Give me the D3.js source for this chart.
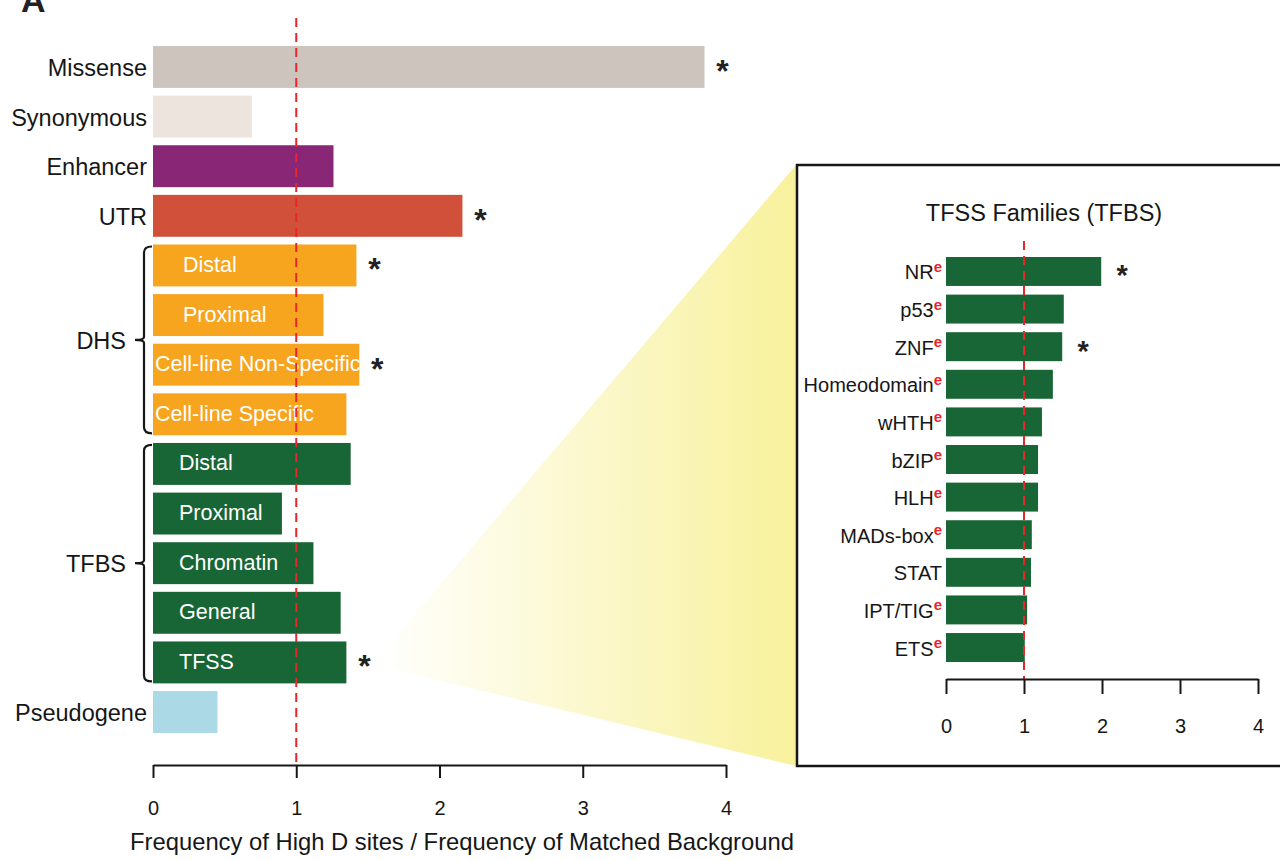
<!DOCTYPE html>
<html>
<head>
<meta charset="utf-8">
<script src="https://cdn.jsdelivr.net/npm/d3@7"></script>
<style>
  body { margin: 0; background: #fff; }
  svg { display: block; font-family: "Liberation Sans", Arial, Helvetica, sans-serif; }
</style>
</head>
<body>
<div id="chart"></div>
<script>
// main panel data
const categories = ['Missense', 'Synonymous', 'Enhancer', 'UTR',
  'DHS Distal', 'DHS Proximal', 'DHS Cell-line Non-Specific', 'DHS Cell-line Specific',
  'TFBS Distal', 'TFBS Proximal', 'TFBS Chromatin', 'TFBS General', 'TFBS TFSS',
  'Pseudogene'];
const barText = ['Missense', 'Synonymous', 'Enhancer', 'UTR',
  'Distal', 'Proximal', 'Cell-line Non-Specific', 'Cell-line Specific',
  'Distal', 'Proximal', 'Chromatin', 'General', 'TFSS', 'Pseudogene'];
const groups = ['Missense', 'Synonymous', 'Enhancer', 'UTR',
  'DHS', 'DHS', 'DHS', 'DHS', 'TFBS', 'TFBS', 'TFBS', 'TFBS', 'TFBS', 'Pseudogene'];
const values = [3.85, 0.69, 1.26, 2.16, 1.42, 1.19, 1.44, 1.35, 1.38, 0.90, 1.12, 1.31, 1.35, 0.45];
const significant = [true, false, false, true, true, false, true, false, false, false, false, false, true, false];
const xTicks = [0, 1, 2, 3, 4];

// inset panel data (TFSS families)
const families = ['NR', 'p53', 'ZNF', 'Homeodomain', 'wHTH', 'bZIP', 'HLH', 'MADs-box', 'STAT', 'IPT/TIG', 'ETS'];
const familyValues = [1.99, 1.51, 1.49, 1.37, 1.23, 1.18, 1.18, 1.10, 1.09, 1.04, 1.01];
const familyEnriched = [true, true, true, true, true, true, true, true, false, true, true];
const familySignificant = [true, false, true, false, false, false, false, false, false, false, false];
const insetTicks = [0, 1, 2, 3, 4];

const colors = {
  Missense: '#cdc4be', Synonymous: '#ede5dd', Enhancer: '#8a2676', UTR: '#d0503a',
  DHS: '#f7a41f', TFBS: '#186535', Pseudogene: '#acd9e6'
};
const red = '#e8262a';
const ink = '#161616';

const W = 1280, H = 861;
const svg = d3.select('#chart').append('svg').attr('width', W).attr('height', H);

// ---- zoom triangle (drawn first so the box sits over it)
const grad = svg.append('defs').append('linearGradient')
  .attr('id', 'zoomGrad').attr('gradientUnits', 'userSpaceOnUse')
  .attr('x1', 375).attr('y1', 0).attr('x2', 796).attr('y2', 0);
grad.append('stop').attr('offset', 0).attr('stop-color', '#ffffff');
grad.append('stop').attr('offset', 1).attr('stop-color', '#f8f19c');

// ---- main panel
const x = d3.scaleLinear().domain([0, 4]).range([153, 726]);
const y = d3.scaleBand().domain(categories).range([46, 733]).paddingInner(0.155).paddingOuter(0);
const bw = y.bandwidth();
const axisY = 765;

const tfssY = y('TFBS TFSS') + bw / 2;
svg.append('path')
  .attr('d', `M${x(1.35) + 26},${tfssY + 2} L796,165 L796,766 Z`)
  .attr('fill', 'url(#zoomGrad)');

svg.append('text').attr('x', 21).attr('y', 12)
  .attr('font-size', 34).attr('font-weight', 'bold').attr('fill', '#222').text('A');

svg.selectAll('rect.bar')
  .data(categories)
  .enter()
  .append('rect')
  .attr('class', 'bar')
  .attr('x', x(0))
  .attr('y', d => y(d))
  .attr('width', (d, i) => x(values[i]) - x(0))
  .attr('height', bw)
  .attr('fill', (d, i) => colors[groups[i]]);

// labels: inside the bars for DHS / TFBS sub-types, outside otherwise
categories.forEach((c, i) => {
  const g = groups[i];
  const cy = y(c) + bw / 2;
  if (g === 'DHS' || g === 'TFBS') {
    const long = barText[i].startsWith('Cell-line');
    const indent = long ? 2 : (g === 'DHS' ? 30 : 26);
    svg.append('text').attr('x', x(0) + indent).attr('y', cy - 1).attr('dy', '0.35em')
      .attr('font-size', 21.5).attr('fill', '#fff').text(barText[i]);
  } else {
    svg.append('text').attr('x', 147).attr('y', cy + 1).attr('dy', '0.35em')
      .attr('text-anchor', 'end').attr('font-size', 23.5).attr('fill', ink).text(barText[i]);
  }
  if (significant[i]) {
    svg.append('text').attr('x', x(values[i]) + 18).attr('y', cy + 15)
      .attr('text-anchor', 'middle').attr('font-size', 32).attr('font-weight', 'bold')
      .attr('fill', '#222').text('*');
  }
});

// braces for DHS and TFBS groups
['DHS', 'TFBS'].forEach(g => {
  const members = categories.filter((c, i) => groups[i] === g);
  const top = y(members[0]) + 2;
  const bot = y(members[members.length - 1]) + bw - 2;
  const mid = (top + bot) / 2;
  const bx = 144, r = 6;
  const p = d3.path();
  p.moveTo(152, top);
  p.quadraticCurveTo(bx, top, bx, top + r);
  p.lineTo(bx, mid - 3);
  p.quadraticCurveTo(bx, mid, bx - 9, mid);
  p.quadraticCurveTo(bx, mid, bx, mid + 3);
  p.lineTo(bx, bot - r);
  p.quadraticCurveTo(bx, bot, 152, bot);
  svg.append('path').attr('d', p.toString()).attr('fill', 'none')
    .attr('stroke', ink).attr('stroke-width', 2.2);
  svg.append('text').attr('x', 126).attr('y', mid + 1).attr('dy', '0.35em')
    .attr('text-anchor', 'end').attr('font-size', 23.5).attr('fill', ink).text(g);
});

// reference line at 1
svg.append('line').attr('x1', x(1)).attr('x2', x(1)).attr('y1', 18).attr('y2', axisY)
  .attr('stroke', red).attr('stroke-width', 2).attr('stroke-dasharray', '9,6');

const xAxis = svg.append('g').attr('transform', `translate(0,${axisY})`)
  .call(d3.axisBottom(x).tickValues(xTicks).tickFormat(d3.format('d'))
    .tickSize(13).tickSizeOuter(0).tickPadding(23));
xAxis.select('.domain').attr('stroke', ink).attr('stroke-width', 2);
xAxis.selectAll('.tick line').attr('stroke', ink).attr('stroke-width', 2);
xAxis.selectAll('.tick text').attr('font-size', 20).attr('fill', ink)
  .attr('font-family', '"Liberation Sans", Arial, sans-serif');

svg.append('text').attr('x', 462).attr('y', 850)
  .attr('text-anchor', 'middle').attr('font-size', 23.8).attr('fill', ink)
  .text('Frequency of High D sites / Frequency of Matched Background');

// ---- inset panel
svg.append('rect').attr('x', 797).attr('y', 165).attr('width', 500).attr('height', 601)
  .attr('fill', '#fff').attr('stroke', ink).attr('stroke-width', 2.5);

const xi = d3.scaleLinear().domain([0, 4]).range([946, 1258]);
const yi = d3.scaleBand().domain(families).range([257, 662]).paddingInner(0.23).paddingOuter(0);
const bwi = yi.bandwidth();
const insetAxisY = 679;

svg.append('text').attr('x', 1044).attr('y', 221).attr('text-anchor', 'middle')
  .attr('font-size', 23.5).attr('fill', ink).text('TFSS Families (TFBS)');

svg.selectAll('rect.fam')
  .data(families)
  .enter()
  .append('rect')
  .attr('class', 'fam')
  .attr('x', xi(0))
  .attr('y', d => yi(d))
  .attr('width', (d, i) => xi(familyValues[i]) - xi(0))
  .attr('height', bwi)
  .attr('fill', colors.TFBS);

families.forEach((f, i) => {
  const cy = yi(f) + bwi / 2;
  const t = svg.append('text').attr('x', 942).attr('y', cy + 1).attr('dy', '0.35em')
    .attr('text-anchor', 'end').attr('font-size', 20).attr('fill', ink);
  t.append('tspan').text(f);
  if (familyEnriched[i]) {
    t.append('tspan').attr('dy', '-0.5em').attr('font-size', 15).attr('font-weight', 'bold')
      .attr('fill', red).text('e');
  }
  if (familySignificant[i]) {
    svg.append('text').attr('x', xi(familyValues[i]) + 21).attr('y', cy + 14)
      .attr('text-anchor', 'middle').attr('font-size', 29).attr('font-weight', 'bold')
      .attr('fill', '#222').text('*');
  }
});

svg.append('line').attr('x1', xi(1)).attr('x2', xi(1)).attr('y1', 241).attr('y2', insetAxisY)
  .attr('stroke', red).attr('stroke-width', 2).attr('stroke-dasharray', '9,6');

const iAxis = svg.append('g').attr('transform', `translate(0,${insetAxisY})`)
  .call(d3.axisBottom(xi).tickValues(insetTicks).tickFormat(d3.format('d'))
    .tickSize(15).tickSizeOuter(0).tickPadding(25));
iAxis.select('.domain').attr('stroke', ink).attr('stroke-width', 2);
iAxis.selectAll('.tick line').attr('stroke', ink).attr('stroke-width', 2);
iAxis.selectAll('.tick text').attr('font-size', 20).attr('fill', ink)
  .attr('font-family', '"Liberation Sans", Arial, sans-serif');
</script>
</body>
</html>
